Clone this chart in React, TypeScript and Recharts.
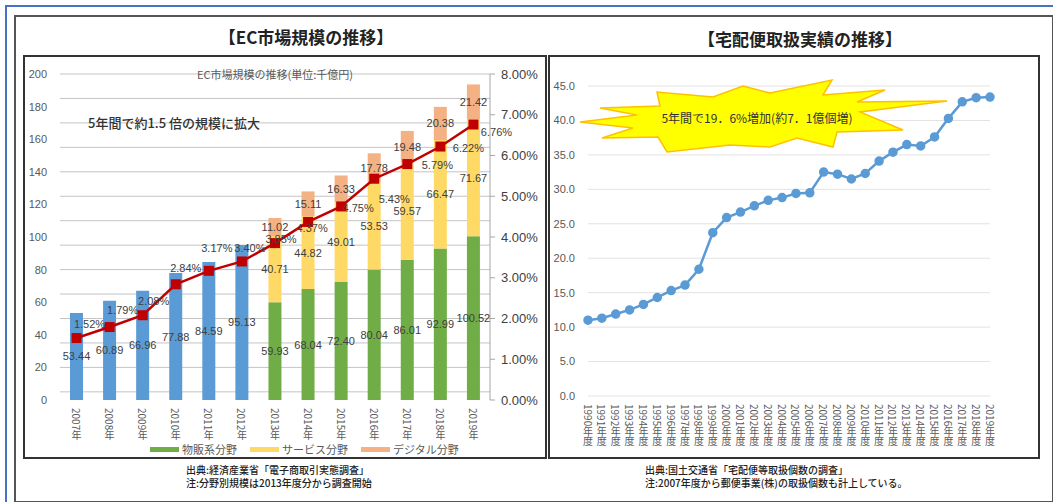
import {
  ComposedChart,
  Bar,
  Line,
  XAxis,
  YAxis,
  CartesianGrid,
  Legend,
  LabelList,
} from "recharts";

// EC market (left)
const ecYears = ["2007年", "2008年", "2009年", "2010年", "2011年", "2012年", "2013年", "2014年", "2015年", "2016年", "2017年", "2018年", "2019年"];
const ecTotal = [53.44, 60.89, 66.96, 77.88, 84.59, 95.13, null, null, null, null, null, null, null];
const ecGoods = [null, null, null, null, null, null, 59.93, 68.04, 72.4, 80.04, 86.01, 92.99, 100.52];
const ecService = [null, null, null, null, null, null, 40.71, 44.82, 49.01, 53.53, 59.57, 66.47, 71.67];
const ecDigital = [null, null, null, null, null, null, 11.02, 15.11, 16.33, 17.78, 19.48, 20.38, 21.42];
const ecRate = [1.52, 1.79, 2.08, 2.84, 3.17, 3.4, 3.85, 4.37, 4.75, 5.43, 5.79, 6.22, 6.76];
const ecLeftTicks = [0, 20, 40, 60, 80, 100, 120, 140, 160, 180, 200];
const ecRightTicks = [0, 1, 2, 3, 4, 5, 6, 7, 8];

// parcel delivery (right), 億個
const parcelYears = ["1990年度", "1991年度", "1992年度", "1993年度", "1994年度", "1995年度", "1996年度", "1997年度", "1998年度", "1999年度", "2000年度", "2001年度", "2002年度", "2003年度", "2004年度", "2005年度", "2006年度", "2007年度", "2008年度", "2009年度", "2010年度", "2011年度", "2012年度", "2013年度", "2014年度", "2015年度", "2016年度", "2017年度", "2018年度", "2019年度"];
const parcelCounts = [11.0, 11.3, 11.9, 12.5, 13.3, 14.3, 15.3, 16.1, 18.4, 23.7, 25.9, 26.7, 27.6, 28.4, 28.8, 29.4, 29.5, 32.5, 32.2, 31.5, 32.3, 34.1, 35.4, 36.5, 36.3, 37.6, 40.3, 42.7, 43.3, 43.4];
const parcelTicks = [0, 5, 10, 15, 20, 25, 30, 35, 40, 45];

const ecLegend = [
  { name: "物販系分野", color: "#70ad47" },
  { name: "サービス分野", color: "#ffd966" },
  { name: "デジタル分野", color: "#f4b183" },
];

// where each % label sits relative to its marker
const rateLabelShift: [number, number][] = [
  [13, -14], [13, -17], [11, -14], [10, -16], [8, -23], [8, -13], [6, -4],
  [4, 6], [17, 2], [20, 20], [30, 1], [28, 1], [23, 7],
];

const FONT = "'Liberation Sans', 'Noto Sans CJK JP', sans-serif";
const JP = "'Noto Sans CJK JP', 'Liberation Sans', sans-serif";

const ecRows = ecYears.map((year, i) => ({
  year,
  total: ecTotal[i],
  goods: ecGoods[i],
  service: ecService[i],
  digital: ecDigital[i],
  rate: ecRate[i],
}));
const parcelRows = parcelYears.map((year, i) => ({ year, count: parcelCounts[i] }));
const gridFive = Array.from({ length: 41 }, (_, i) => i * 5);

// vertical text: digits lie sideways, kanji stay upright
const VerticalTick = (props: any) => {
  const { x, y, payload, size } = props;
  return (
    <text
      x={x}
      y={y + 2}
      fill="#595959"
      fontSize={size}
      fontFamily={JP}
      style={{ writingMode: "vertical-rl", textOrientation: "mixed" } as any}
    >
      {payload.value}
    </text>
  );
};

const barValue = (props: any) => {
  const { value } = props;
  if (value == null) return null;
  const vb = props.viewBox ?? props;
  return (
    <text
      x={vb.x + vb.width / 2}
      y={vb.y + vb.height / 2}
      textAnchor="middle"
      dominantBaseline="central"
      fontSize={11}
      fontFamily={FONT}
      fill="#404040"
    >
      {Number(value).toFixed(2)}
    </text>
  );
};

const rateValue = (props: any) => {
  const { value, index } = props;
  const vb = props.viewBox ?? props;
  const [dx, dy] = rateLabelShift[index] ?? [10, -12];
  return (
    <text
      x={vb.x + dx}
      y={vb.y + dy}
      textAnchor="middle"
      dominantBaseline="central"
      fontSize={11}
      fontFamily={FONT}
      fill="#404040"
    >
      {Number(value).toFixed(2)}%
    </text>
  );
};

const squareDot = (props: any) => {
  const { cx, cy, index } = props;
  return <rect key={index} x={cx - 5} y={cy - 5} width={10} height={10} fill="#c00000" />;
};

const EcLegend = () => (
  <div style={{ display: "flex", alignItems: "center", paddingLeft: 127, height: 16, fontFamily: JP, fontSize: 11, color: "#595959" }}>
    {ecLegend.map((it) => (
      <div key={it.name} style={{ display: "flex", alignItems: "center", marginRight: 13 }}>
        <span style={{ display: "inline-block", width: 29, height: 5, background: it.color, marginRight: 3 }} />
        <span>{it.name}</span>
      </div>
    ))}
  </div>
);

const burst = [
  [580, 122], [637, 115], [600, 108], [660, 106], [657, 92], [713, 97], [743, 86], [770, 93],
  [832, 80], [823, 95], [885, 90], [857, 102], [947, 101], [860, 112], [903, 130], [837, 132],
  [833, 147], [797, 138], [770, 147], [730, 145], [667, 152], [658, 137], [602, 138], [633, 128],
];

export default function App() {
  return (
    <div style={{ position: "absolute", left: 0, top: 0, width: 1053, height: 502, background: "#fff", overflow: "hidden", fontFamily: JP }}>
      {/* blue frame */}
      <div style={{ position: "absolute", left: 5, top: 5, width: 1060, height: 520, borderTop: "2px solid #4472c4", borderLeft: "2px solid #4472c4" }} />
      {/* outer box */}
      <div style={{ position: "absolute", left: 14, top: 15, width: 1036, height: 484, border: "2px solid #555" }} />
      {/* inner boxes */}
      <div style={{ position: "absolute", left: 23, top: 55, width: 520, height: 400, border: "2px solid #333" }} />
      <div style={{ position: "absolute", left: 548, top: 55, width: 488, height: 400, border: "2px solid #333" }} />

      <div style={{ position: "absolute", left: 14, width: 584, top: 24, textAlign: "center", fontSize: 17, fontWeight: 700, color: "#222" }}>
        【EC市場規模の推移】
      </div>
      <div style={{ position: "absolute", left: 548, width: 504, top: 26, textAlign: "center", fontSize: 17, fontWeight: 700, color: "#222" }}>
        【宅配便取扱実績の推移】
      </div>

      <div style={{ position: "absolute", left: 23, top: 55 }}>
        <ComposedChart width={522} height={402} data={ecRows} margin={{ top: 19, right: 5, left: 0, bottom: 0 }}>
          <CartesianGrid yAxisId="left" horizontalValues={gridFive} vertical={false} stroke="#c4c4c4" />
          <XAxis dataKey="year" height={41} interval={0} tickLine={false} axisLine={false} tickMargin={0} tick={(p: any) => <VerticalTick {...p} size={10} />} />
          <YAxis yAxisId="left" width={37} domain={[0, 200]} ticks={ecLeftTicks} axisLine={false} tickLine={false} tickMargin={7} tick={{ fontSize: 11, fill: "#595959", fontFamily: FONT }} />
          <YAxis yAxisId="right" orientation="right" width={50} domain={[0, 8]} ticks={ecRightTicks} tickFormatter={(v: number) => v.toFixed(2) + "%"} axisLine={{ stroke: "#a6a6a6" }} tickLine={{ stroke: "#a6a6a6" }} tickSize={5} tickMargin={6} tick={{ fontSize: 13, fill: "#404040", fontFamily: FONT }} />
          <Legend verticalAlign="bottom" height={16} content={() => <EcLegend />} />
          <Bar yAxisId="left" dataKey="total" stackId="s" fill="#5b9bd5" barSize={13} legendType="none" isAnimationActive={false}>
            <LabelList dataKey="total" content={barValue} />
          </Bar>
          <Bar yAxisId="left" dataKey="goods" stackId="s" fill="#70ad47" barSize={13} isAnimationActive={false}>
            <LabelList dataKey="goods" content={barValue} />
          </Bar>
          <Bar yAxisId="left" dataKey="service" stackId="s" fill="#ffd966" barSize={13} isAnimationActive={false}>
            <LabelList dataKey="service" content={barValue} />
          </Bar>
          <Bar yAxisId="left" dataKey="digital" stackId="s" fill="#f4b183" barSize={13} isAnimationActive={false}>
            <LabelList dataKey="digital" content={barValue} />
          </Bar>
          <Line yAxisId="right" dataKey="rate" stroke="#c00000" strokeWidth={2.5} dot={squareDot} legendType="none" isAnimationActive={false}>
            <LabelList dataKey="rate" content={rateValue} />
          </Line>
        </ComposedChart>
      </div>

      <div style={{ position: "absolute", left: 548, top: 55 }}>
        <ComposedChart width={490} height={402} data={parcelRows} margin={{ top: 31, right: 48, left: 0, bottom: 0 }}>
          <CartesianGrid vertical={false} stroke="#e2e2e2" />
          <XAxis dataKey="year" height={61} interval={0} tickLine={false} axisLine={false} tickMargin={0} tick={(p: any) => <VerticalTick {...p} size={10} />} />
          <YAxis width={40} domain={[0, 45]} ticks={parcelTicks} tickFormatter={(v: number) => v.toFixed(1)} axisLine={false} tickLine={false} tickMargin={7} tick={{ fontSize: 11, fill: "#595959", fontFamily: FONT }} />
          <Line dataKey="count" stroke="#5b9bd5" strokeWidth={2.5} dot={{ r: 3.5, fill: "#5b9bd5", stroke: "#5b9bd5" }} isAnimationActive={false} />
        </ComposedChart>
      </div>

      {/* in-chart annotations */}
      <div style={{ position: "absolute", left: 23, width: 504, top: 66, textAlign: "center", fontSize: 11, color: "#595959" }}>
        EC市場規模の推移(単位:千億円)
      </div>
      <div style={{ position: "absolute", left: 88, top: 113, fontSize: 13, color: "#333", fontWeight: 500 }}>
        5年間で約1.5 倍の規模に拡大
      </div>
      <svg width={1053} height={502} style={{ position: "absolute", left: 0, top: 0, pointerEvents: "none" }}>
        <polygon points={burst.map((p) => p.join(",")).join(" ")} fill="#ffff00" stroke="#ffc000" strokeWidth={1.5} />
        <text x={757} y={117} textAnchor="middle" dominantBaseline="central" fontSize={12} fill="#333" fontFamily={JP}>
          5年間で19．6%増加(約7．1億個増)
        </text>
      </svg>

      {/* sources */}
      <div style={{ position: "absolute", left: 186, top: 463, fontSize: 10, lineHeight: "13px", color: "#222", fontWeight: 500 }}>
        <div>出典:経済産業省「電子商取引実態調査」</div>
        <div>注:分野別規模は2013年度分から調査開始</div>
      </div>
      <div style={{ position: "absolute", left: 645, top: 463, fontSize: 10, lineHeight: "13px", color: "#222", fontWeight: 500 }}>
        <div>出典:国土交通省「宅配便等取扱個数の調査」</div>
        <div>注:2007年度から郵便事業(株)の取扱個数も計上している。</div>
      </div>
    </div>
  );
}
